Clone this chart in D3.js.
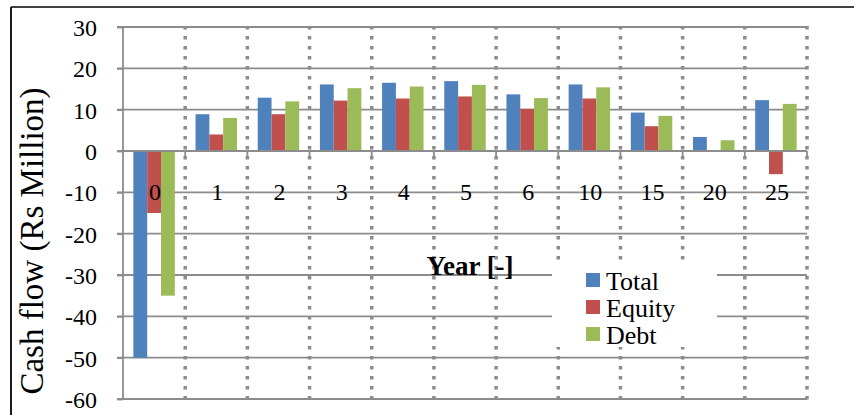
<!DOCTYPE html>
<html><head><meta charset="utf-8">
<script src="https://cdn.jsdelivr.net/npm/d3@7"></script>
<style>
html,body{margin:0;padding:0;background:#fff;}
</style></head>
<body><svg id="c" width="854" height="415"></svg>
<script>
const years = ["0","1","2","3","4","5","6","10","15","20","25"];
const seriesNames = ["Total","Equity","Debt"];
const totalVals  = [-50, 8.9, 12.9, 16.1, 16.5, 16.9, 13.7, 16.1, 9.3, 3.4, 12.3];
const equityVals = [-15, 4.0, 8.9, 12.2, 12.7, 13.2, 10.2, 12.7, 6.0, 0, -5.6];
const debtVals   = [-35, 8.0, 12.0, 15.2, 15.6, 16.0, 12.8, 15.4, 8.5, 2.6, 11.4];
const yTicks = [-60,-50,-40,-30,-20,-10,0,10,20,30];
const colors = ["#4F81BD","#C0504D","#9BBB59"];

const FONT = "'Liberation Serif', 'Times New Roman', serif";
const svg = d3.select("#c");
const L = 123, R = 807, T = 27, B = 399;
const x = d3.scaleBand().domain(years).range([L, R]).padding(0);
const y = d3.scaleLinear().domain([-60, 30]).range([B, T]);
const bw = x.bandwidth();
const w = bw / 4.5;
const xs = d3.scaleBand().domain(seriesNames).range([(bw - 3*w)/2, (bw + 3*w)/2]).padding(0);
const grid = "#8c8c8c";

// outer border
svg.append("line").attr("x1",11).attr("x2",854).attr("y1",7).attr("y2",7).attr("stroke","#000").attr("stroke-width",1.5);
svg.append("line").attr("x1",11).attr("x2",11).attr("y1",7).attr("y2",415).attr("stroke","#000").attr("stroke-width",1.8);

// horizontal gridlines
svg.append("g").selectAll("line").data(yTicks).join("line")
  .attr("x1", L - 6).attr("x2", R)
  .attr("y1", d => y(d)).attr("y2", d => y(d))
  .attr("stroke", grid).attr("stroke-width", 1.8);

// bars
const data = [totalVals, equityVals, debtVals];
seriesNames.forEach((s, si) => {
  svg.append("g").selectAll("rect").data(years).join("rect")
    .attr("x", (d) => x(d) + xs(s))
    .attr("width", xs.bandwidth())
    .attr("y", (d,i) => y(Math.max(0, data[si][i])))
    .attr("height", (d,i) => Math.abs(y(data[si][i]) - y(0)))
    .attr("fill", colors[si]);
});

// vertical dotted lines at category boundaries
const bounds = years.map(d => x(d) + bw);
svg.append("g").selectAll("line").data(bounds).join("line")
  .attr("x1", d => d).attr("x2", d => d)
  .attr("y1", T - 1).attr("y2", B + 2)
  .attr("stroke", grid).attr("stroke-width", 3.5)
  .attr("stroke-dasharray", "3.5,6.5");

// zero axis line + ticks
svg.append("line").attr("x1", L).attr("x2", R).attr("y1", y(0)).attr("y2", y(0))
  .attr("stroke", grid).attr("stroke-width", 2.2);
svg.append("g").selectAll("line").data(bounds).join("line")
  .attr("x1", d => d).attr("x2", d => d).attr("y1", y(0)).attr("y2", y(0) + 6)
  .attr("stroke", grid).attr("stroke-width", 1.8);

// y axis
const yAxis = d3.axisLeft(y).tickValues(yTicks).tickSize(6).tickFormat(d => String(d));
const ga = svg.append("g").attr("transform", `translate(${L},0)`).call(yAxis);
ga.select(".domain").attr("stroke", grid).attr("stroke-width", 1.8).attr("d", `M0,${T}V${B}`);
ga.selectAll(".tick line").attr("stroke", grid).attr("stroke-width", 1.8);
ga.selectAll(".tick text").attr("dy", "0.35em").attr("x", -26)
  .attr("fill", "#000").style("font-family", FONT).style("font-size", "24px");

// category labels
svg.append("g").selectAll("text").data(years).join("text")
  .attr("x", d => x(d) + bw/2 + 1).attr("y", 200)
  .attr("text-anchor", "middle").style("font-family", FONT).style("font-size", "24px").text(d => d);

// axis titles
svg.append("text").attr("transform", "translate(43,241) rotate(-90)")
  .attr("text-anchor", "middle").style("font-family", FONT).style("font-size", "33px").text("Cash flow (Rs Million)");
svg.append("text").attr("x", 470).attr("y", 275).attr("text-anchor", "middle")
  .style("font-family", FONT).style("font-size", "27px").style("font-weight", "bold").text("Year [-]");

// legend
const lg = svg.append("g");
lg.append("rect").attr("x", 552).attr("y", 264).attr("width", 165).attr("height", 83).attr("fill", "#fff");
seriesNames.forEach((s, i) => {
  lg.append("rect").attr("x", 586).attr("y", 273 + i*27).attr("width", 14).attr("height", 14).attr("fill", colors[i]);
  lg.append("text").attr("x", 606).attr("y", 290 + i*27)
    .style("font-family", FONT).style("font-size", "26px").text(s);
});
</script></body></html>
